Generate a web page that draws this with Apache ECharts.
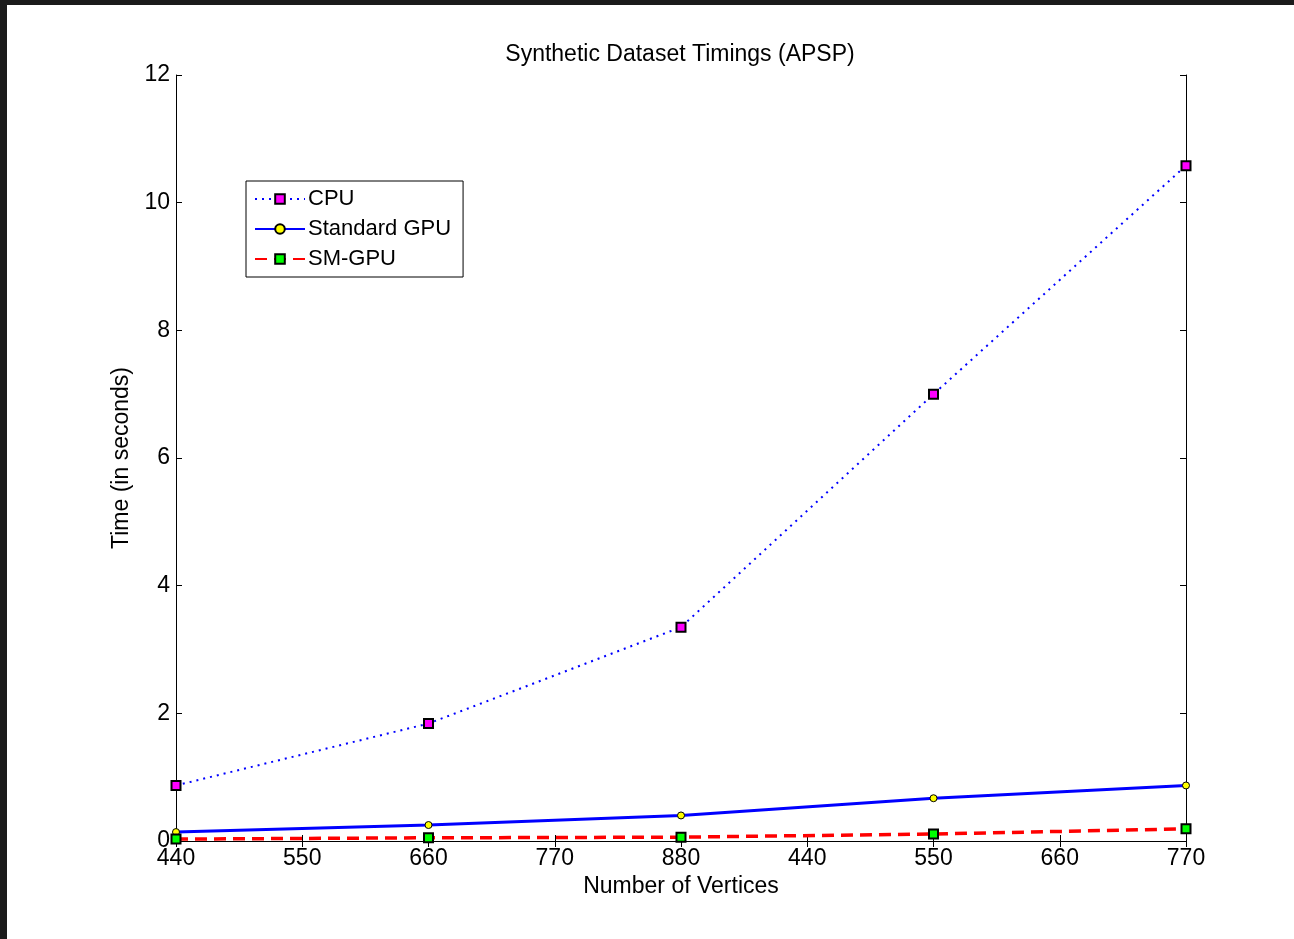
<!DOCTYPE html>
<html>
<head>
<meta charset="utf-8">
<script src="https://cdn.jsdelivr.net/npm/echarts@6/dist/echarts.min.js"></script>
<style>
  html, body { margin: 0; padding: 0; background: #1b1b1b; }
  #chart { position: absolute; left: 7px; top: 5px; width: 1287px; height: 934px; background: #fff; }
</style>
</head>
<body>
<div id="chart"></div>
<script>
// tick labels on the x axis (as printed in the figure)
var vertexLabels = ['440', '550', '660', '770', '880', '440', '550', '660', '770'];
// positions (tick index) where the measurements sit
var measuredAt = [0, 2, 4, 6, 8];
var cpuTimes = [0.87, 1.84, 3.35, 7.0, 10.58];
var stdGpuTimes = [0.14, 0.25, 0.4, 0.67, 0.87];
var smGpuTimes = [0.03, 0.05, 0.06, 0.11, 0.19];

function pairs(vals) {
  var out = [];
  for (var i = 0; i < vals.length; i++) {
    out.push([measuredAt[i], vals[i]]);
  }
  return out;
}

var chart = echarts.init(document.getElementById('chart'));

var fontName = 'Liberation Sans, Arial, sans-serif';
var axisBlack = { lineStyle: { color: '#000', width: 1 } };

var option = {
  backgroundColor: '#fff',
  animation: false,
  textStyle: { fontFamily: fontName },
  title: {
    text: 'Synthetic Dataset Timings (APSP)',
    left: 668,
    top: 33,
    textAlign: 'center',
    textStyle: { fontSize: 23, fontWeight: 'normal', color: '#000', fontFamily: fontName }
  },
  legend: {
    orient: 'vertical',
    left: 239,
    top: 176,
    width: 217,
    padding: [7, 12, 7, 8],
    itemGap: 8,
    itemWidth: 50,
    itemHeight: 12,
    borderColor: '#000',
    borderWidth: 1,
    backgroundColor: '#fff',
    textStyle: { fontSize: 22, color: '#000', fontFamily: fontName, padding: [0, 0, 0, -2] },
    data: ['CPU', 'Standard GPU', 'SM-GPU']
  },
  grid: { left: 169, right: 108, top: 70, bottom: 98 },
  xAxis: [
    {
      type: 'category',
      data: vertexLabels,
      boundaryGap: false,
      name: 'Number of Vertices',
      nameLocation: 'middle',
      nameGap: 33,
      nameTextStyle: { fontSize: 23, color: '#000', fontFamily: fontName },
      axisLine: axisBlack,
      axisTick: { inside: true, length: 6, alignWithLabel: true, lineStyle: { color: '#000' } },
      axisLabel: { fontSize: 23, color: '#000', margin: 6, fontFamily: fontName },
      splitLine: { show: false }
    },
    {
      type: 'category',
      data: vertexLabels,
      boundaryGap: false,
      position: 'top',
      axisLine: axisBlack,
      axisTick: { inside: true, length: 6, lineStyle: { color: '#000' } },
      axisLabel: { show: false },
      splitLine: { show: false }
    }
  ],
  yAxis: [
    {
      type: 'value',
      min: 0,
      max: 12,
      interval: 2,
      name: 'Time (in seconds)',
      nameLocation: 'middle',
      nameGap: 40,
      nameTextStyle: { fontSize: 23, color: '#000', fontFamily: fontName },
      axisLine: { show: true, lineStyle: { color: '#000', width: 1 } },
      axisTick: { show: true, inside: true, length: 6, lineStyle: { color: '#000' } },
      axisLabel: { fontSize: 23, color: '#000', margin: 6, fontFamily: fontName },
      splitLine: { show: false }
    },
    {
      type: 'value',
      min: 0,
      max: 12,
      interval: 2,
      position: 'right',
      axisLine: { show: true, lineStyle: { color: '#000', width: 1 } },
      axisTick: { show: true, inside: true, length: 6, lineStyle: { color: '#000' } },
      axisLabel: { show: false },
      splitLine: { show: false }
    }
  ],
  series: [
    {
      name: 'CPU',
      type: 'line',
      data: pairs(cpuTimes),
      symbol: 'rect',
      symbolSize: 9,
      itemStyle: { color: '#ff00ff', borderColor: '#000', borderWidth: 2 },
      lineStyle: { color: '#0000ff', width: 2, type: [2, 5] },
      z: 3
    },
    {
      name: 'Standard GPU',
      type: 'line',
      data: pairs(stdGpuTimes),
      symbol: 'circle',
      symbolSize: 7,
      itemStyle: { color: '#ffff00', borderColor: '#000', borderWidth: 1 },
      lineStyle: { color: '#0000ff', width: 3, type: 'solid' },
      z: 4
    },
    {
      name: 'SM-GPU',
      type: 'line',
      data: pairs(smGpuTimes),
      symbol: 'rect',
      symbolSize: 9,
      itemStyle: { color: '#00ff00', borderColor: '#000', borderWidth: 2 },
      lineStyle: { color: '#ff0000', width: 3.5, type: [12, 7] },
      z: 5
    }
  ]
};

chart.setOption(option);
window.addEventListener('resize', chart.resize);
</script>
</body>
</html>
